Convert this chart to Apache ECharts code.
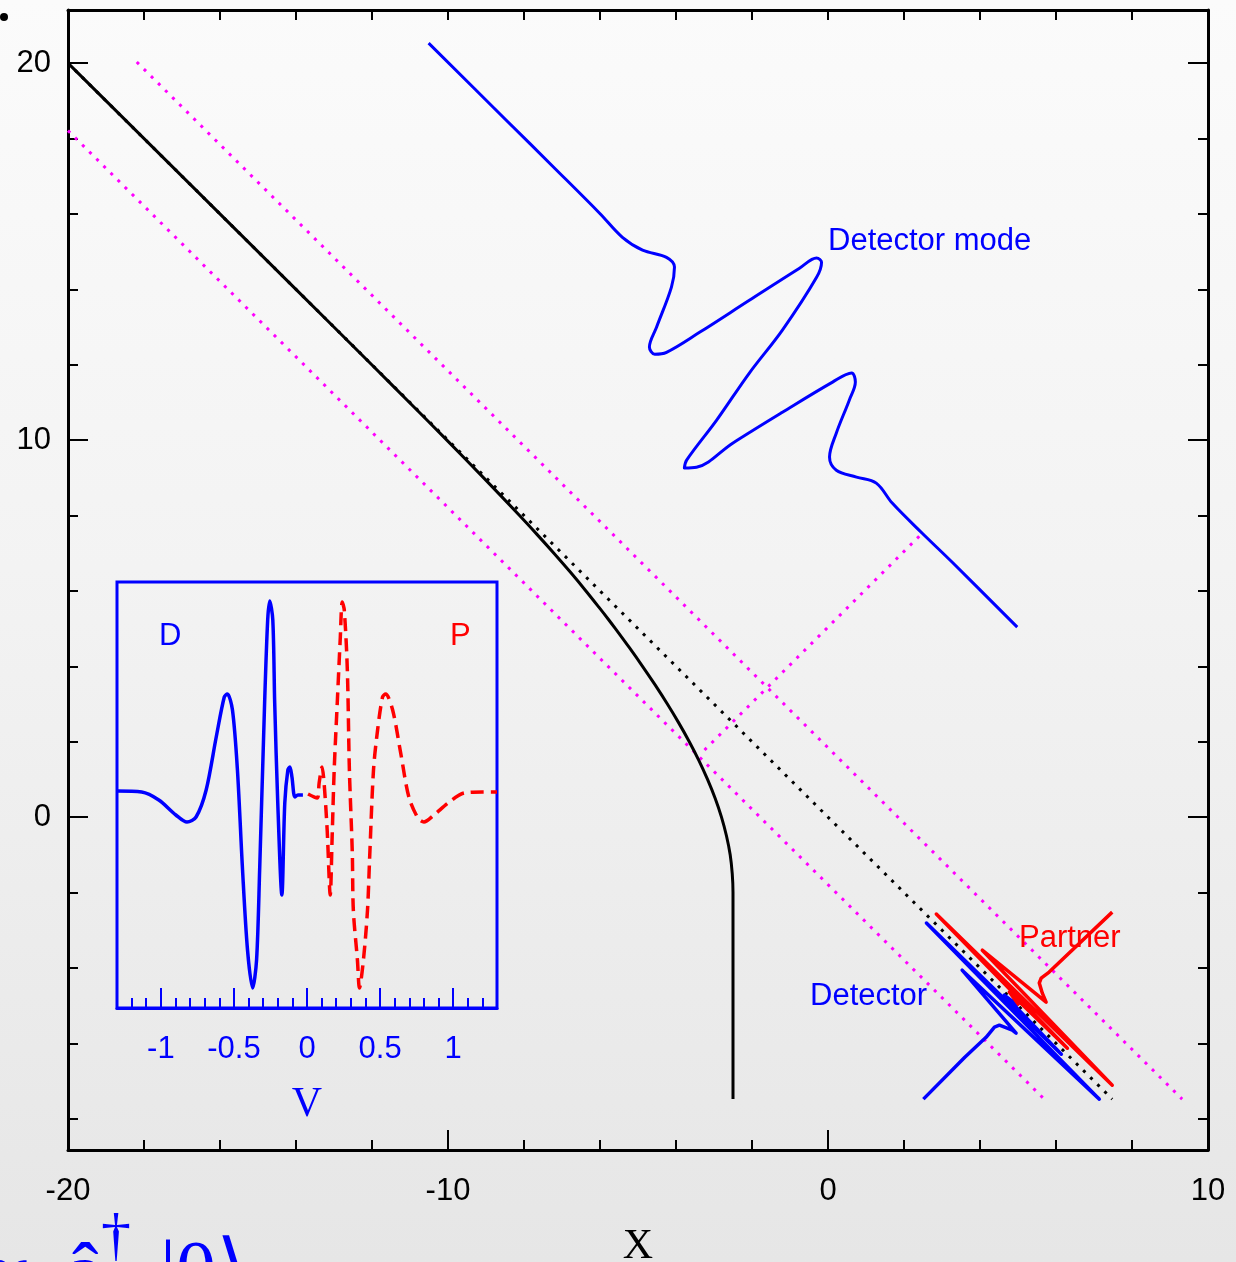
<!DOCTYPE html>
<html><head><meta charset="utf-8">
<script src="https://cdn.jsdelivr.net/npm/echarts@6/dist/echarts.min.js"></script>
<style>
html,body{margin:0;padding:0;}
#c{width:1236px;height:1262px;background:linear-gradient(to bottom,#fbfbfb 0%,#f3f3f3 45%,#e6e6e6 100%);}
</style>
</head><body><div id="c"></div>
<script>
// ---------- axis ranges / ticks ----------
const xMin = -20, xMax = 10;
const yMin = -8.83, yMax = 21.41;
const yTickLabels = [0, 10, 20];
const yMajorTicks = [0, 10, 20];
const yMinorTicks = [-8, -6, -4, -2, 2, 4, 6, 8, 12, 14, 16, 18];
const vMin = -1.3, vMax = 1.3;
const vTickLabels = [-1, -0.5, 0, 0.5, 1];
const vMajorTicks = [-1, -0.5, 0, 0.5, 1];
const vMinorTicks = [-1.3, -1.2, -1.1, -0.9, -0.8, -0.7, -0.6, -0.4, -0.3, -0.2, -0.1,
                     0.1, 0.2, 0.3, 0.4, 0.6, 0.7, 0.8, 0.9, 1.1, 1.2, 1.3];
const insetYMin = -1.08, insetYMax = 1.05;

// ---------- main plot data (x, t) ----------
const trajectory = [[-20,20],[-14.001,14],[-12.006,12],[-11.014,11],[-10.03,10],[-9.061,9],
  [-8.117,8],[-7.659,7.5],[-7.213,7],[-6.782,6.5],[-6.37,6],[-6.03,5.57],[-5.782,5.25],
  [-5.595,5],[-5.231,4.5],[-4.881,4],[-4.545,3.5],
  [-4.227,3],[-3.928,2.5],[-3.65,2],[-3.396,1.5],[-3.17,1],[-2.97,0.5],[-2.803,0],
  [-2.671,-0.5],[-2.574,-1],[-2.52,-1.5],[-2.5,-2],[-2.5,-3],[-2.5,-7.48]];
const horizon = [[-20,20],[7.48,-7.48]];
const nullUpper = [[-18.19,20.03],[9.32,-7.48]];
const nullLower = [[-20,18.21],[5.69,-7.48]];
const nullCross = [[-3.25,1.78],[2.48,7.53]];
const detectorMode = [[-10.51,20.53],[-8.5,18.52],[-7.2,17.22],[-6.01,16.02],[-5.41,15.38],
  [-4.88,15.04],[-4.25,14.85],[-4.04,14.59],[-4.12,14.06],[-4.51,13.0],[-4.70,12.47],
  [-4.56,12.28],[-4.25,12.33],[-3.38,12.86],[-2.07,13.71],[-0.75,14.56],[-0.30,14.83],
  [-0.17,14.72],[-0.30,14.32],[-1.20,12.92],[-2.07,11.78],[-2.93,10.53],[-3.72,9.47],
  [-3.78,9.26],[-3.46,9.28],[-2.51,9.92],[-1.20,10.74],[0.12,11.54],[0.62,11.78],
  [0.72,11.54],[0.56,11.06],[0.22,10.19],[0.04,9.55],[0.22,9.20],[0.75,9.02],
  [1.27,8.86],[1.69,8.33],[2.48,7.53],[3.27,6.76],[4.98,5.04]];
const detectorLate = [[2.51,-7.48],[3.6,-6.37],[4.16,-5.84],[4.38,-5.57],[4.51,-5.52],
  [4.85,-5.65],[4.95,-5.73],[3.53,-4.06],[7.14,-7.48],[2.59,-2.81],[6.14,-6.29],
  [4.64,-4.72],[5.01,-5.01]];
const partnerLate = [[5.03,-4.99],[4.77,-4.64],[6.30,-6.13],[2.85,-2.57],[7.48,-7.11],
  [4.06,-3.53],[5.74,-4.91],[5.64,-4.67],[5.56,-4.40],[5.61,-4.27],[5.82,-4.11],[7.48,-2.52]];

// ---------- inset data (V, amplitude) ----------
const insetD = [[-1.3,0.005],[-1.131,0],[-1.014,-0.04],[-0.897,-0.115],[-0.821,-0.15],
  [-0.759,-0.125],[-0.690,0.01],[-0.621,0.275],[-0.566,0.475],[-0.545,0.49],[-0.510,0.41],
  [-0.476,0.11],[-0.441,-0.39],[-0.407,-0.79],[-0.372,-0.98],[-0.345,-0.84],[-0.324,-0.39],
  [-0.290,0.445],[-0.269,0.86],[-0.255,0.955],[-0.234,0.86],[-0.221,0.445],[-0.200,-0.055],
  [-0.172,-0.515],[-0.152,-0.055],[-0.131,0.11],[-0.117,0.125],[-0.103,0.075],
  [-0.083,-0.025],[-0.062,-0.015],[-0.028,-0.015]];
const insetP = [[0.007,-0.01],[0.069,-0.03],[0.083,0.045],[0.103,0.125],[0.117,0.045],
  [0.138,-0.19],[0.159,-0.515],[0.172,-0.225],[0.186,0.11],[0.207,0.445],[0.228,0.775],
  [0.241,0.95],[0.255,0.91],[0.276,0.61],[0.290,0.11],[0.310,-0.305],[0.317,-0.59],
  [0.345,-0.84],[0.359,-0.98],[0.386,-0.84],[0.414,-0.59],[0.428,-0.34],[0.455,0.11],
  [0.483,0.31],[0.517,0.475],[0.538,0.49],[0.586,0.41],[0.641,0.195],[0.697,-0.025],
  [0.759,-0.13],[0.800,-0.15],[0.869,-0.115],[0.966,-0.055],[1.076,-0.005],[1.2,0],[1.3,0]];

// ---------- styling ----------
const BLUE = '#0000ff', RED = '#ff0000', MAG = '#ff00ff', BLACK = '#000000';
const SANS = 'Liberation Sans, Arial, Helvetica, sans-serif';
const SERIF = 'Liberation Serif, Times New Roman, serif';

function line(data, color, width, type, smooth, xi, yi, z) {
  return {
    type: 'line', data: data, xAxisIndex: xi || 0, yAxisIndex: yi || 0,
    showSymbol: false, symbol: 'none', smooth: smooth || false, silent: true,
    clip: false, z: z || 2,
    lineStyle: { color: color, width: width, type: type || 'solid', cap: 'butt', join: 'round' },
    emphasis: { disabled: true }
  };
}

const tickStyle = (c) => ({ color: c, width: 2 });
const DOTS = [3, 7];

const option = {
  animation: false,
  backgroundColor: 'transparent',
  grid: [
    { left: 68, top: 10, width: 1140, height: 1140, show: false, outerBoundsMode: 'none', containLabel: false },
    { left: 117, top: 582, width: 380, height: 426, show: true, borderColor: BLUE, borderWidth: 3,
      backgroundColor: 'transparent', outerBoundsMode: 'none', containLabel: false }
  ],
  xAxis: [
    { gridIndex: 0, type: 'value', position: 'bottom', min: xMin, max: xMax, interval: 10,
      axisLine: { show: true, onZero: false, lineStyle: { color: BLACK, width: 3 } },
      axisTick: { show: true, inside: true, length: 20, lineStyle: tickStyle(BLACK) },
      minorTick: { show: true, splitNumber: 5, length: 10, lineStyle: tickStyle(BLACK) },
      axisLabel: { show: true, margin: 26, fontSize: 31, color: BLACK, fontFamily: SANS },
      splitLine: { show: false }, minorSplitLine: { show: false },
      name: 'X', nameLocation: 'middle', nameGap: 76,
      nameTextStyle: { fontFamily: SERIF, fontSize: 42, color: BLACK } },
    { gridIndex: 0, type: 'value', position: 'top', min: xMin, max: xMax, interval: 2,
      axisLine: { show: true, onZero: false, lineStyle: { color: BLACK, width: 3 } },
      axisTick: { show: true, inside: true, length: 10, lineStyle: tickStyle(BLACK) },
      axisLabel: { show: false }, splitLine: { show: false } },
    { gridIndex: 1, type: 'value', position: 'bottom', min: vMin, max: vMax,
      axisLine: { show: true, onZero: false, lineStyle: { color: BLUE, width: 3 } },
      axisTick: { show: true, inside: true, length: 20, customValues: vMajorTicks, lineStyle: tickStyle(BLUE) },
      axisLabel: { show: true, customValues: vTickLabels, margin: 26, fontSize: 31, color: BLUE, fontFamily: SANS },
      splitLine: { show: false },
      name: 'V', nameLocation: 'middle', nameGap: 76,
      nameTextStyle: { fontFamily: SERIF, fontSize: 42, color: BLUE } },
    { gridIndex: 1, type: 'value', position: 'bottom', min: vMin, max: vMax,
      axisLine: { show: false, onZero: false },
      axisTick: { show: true, inside: true, length: 10, customValues: vMinorTicks, lineStyle: tickStyle(BLUE) },
      axisLabel: { show: false }, splitLine: { show: false } }
  ],
  yAxis: [
    { gridIndex: 0, type: 'value', position: 'left', min: yMin, max: yMax,
      axisLine: { show: true, onZero: false, lineStyle: { color: BLACK, width: 3 } },
      axisTick: { show: true, inside: true, length: 20, customValues: yMajorTicks, lineStyle: tickStyle(BLACK) },
      axisLabel: { show: true, customValues: yTickLabels, margin: 17, fontSize: 31, color: BLACK, fontFamily: SANS },
      splitLine: { show: false } },
    { gridIndex: 0, type: 'value', position: 'left', min: yMin, max: yMax,
      axisLine: { show: false, onZero: false },
      axisTick: { show: true, inside: true, length: 10, customValues: yMinorTicks, lineStyle: tickStyle(BLACK) },
      axisLabel: { show: false }, splitLine: { show: false } },
    { gridIndex: 0, type: 'value', position: 'right', min: yMin, max: yMax,
      axisLine: { show: true, onZero: false, lineStyle: { color: BLACK, width: 3 } },
      axisTick: { show: true, inside: true, length: 20, customValues: yMajorTicks, lineStyle: tickStyle(BLACK) },
      axisLabel: { show: false }, splitLine: { show: false } },
    { gridIndex: 0, type: 'value', position: 'right', min: yMin, max: yMax,
      axisLine: { show: false, onZero: false },
      axisTick: { show: true, inside: true, length: 10, customValues: yMinorTicks, lineStyle: tickStyle(BLACK) },
      axisLabel: { show: false }, splitLine: { show: false } },
    { gridIndex: 1, type: 'value', min: insetYMin, max: insetYMax, show: false,
      axisLine: { show: false, onZero: false }, splitLine: { show: false } }
  ],
  series: [
    line(nullUpper, MAG, 3, DOTS, false, 0, 0, 1),
    line(nullLower, MAG, 3, DOTS, false, 0, 0, 1),
    line(nullCross, MAG, 3, DOTS, false, 0, 0, 1),
    line(horizon, BLACK, 3, DOTS, false, 0, 0, 1),
    line(trajectory, BLACK, 3, 'solid', 0.3, 0, 0, 2),
    line(detectorMode, BLUE, 3, 'solid', 0.35, 0, 0, 3),
    line(detectorLate, BLUE, 3.5, 'solid', false, 0, 0, 3),
    line(partnerLate, RED, 3.5, 'solid', false, 0, 0, 3),
    line(insetD, BLUE, 3.5, 'solid', 0.3, 2, 4, 3),
    line(insetP, RED, 3.5, [13, 7], 0.3, 2, 4, 3)
  ],
  graphic: [
    { type: 'text', x: 828, y: 241, z: 10, style: { text: 'Detector mode', fill: BLUE, fontSize: 31, fontFamily: SANS, align: 'left', verticalAlign: 'middle' } },
    { type: 'text', x: 810, y: 996, z: 10, style: { text: 'Detector', fill: BLUE, fontSize: 31, fontFamily: SANS, align: 'left', verticalAlign: 'middle' } },
    { type: 'text', x: 1019, y: 938, z: 10, style: { text: 'Partner', fill: RED, fontSize: 31, fontFamily: SANS, align: 'left', verticalAlign: 'middle' } },
    { type: 'text', x: 159, y: 636, z: 10, style: { text: 'D', fill: BLUE, fontSize: 31, fontFamily: SANS, align: 'left', verticalAlign: 'middle' } },
    { type: 'text', x: 450, y: 636, z: 10, style: { text: 'P', fill: RED, fontSize: 31, fontFamily: SANS, align: 'left', verticalAlign: 'middle' } },
    { type: 'circle', z: 10, shape: { cx: 4, cy: 17, r: 4 }, style: { fill: BLACK } },
    { type: 'text', x: -22, y: 1238, z: 10, style: { text: '\u221D', fill: BLUE, fontSize: 80, fontFamily: SERIF, align: 'left', verticalAlign: 'top' } },
    { type: 'text', x: 67, y: 1237, z: 10, style: { text: '\u00E2', fill: BLUE, fontSize: 80, fontFamily: SERIF, align: 'left', verticalAlign: 'top' } },
    { type: 'text', x: 101, y: 1208, z: 10, style: { text: '\u2020', fill: BLUE, fontSize: 60, fontFamily: SERIF, align: 'left', verticalAlign: 'top' } },
    { type: 'text', x: 160, y: 1235, z: 10, style: { text: '|0\u27E9', fill: BLUE, fontSize: 80, fontFamily: SERIF, align: 'left', verticalAlign: 'top' } }
  ]
};

const chart = echarts.init(document.getElementById('c'), null, { renderer: 'canvas', width: 1236, height: 1262 });
chart.setOption(option);
</script>
</body></html>
